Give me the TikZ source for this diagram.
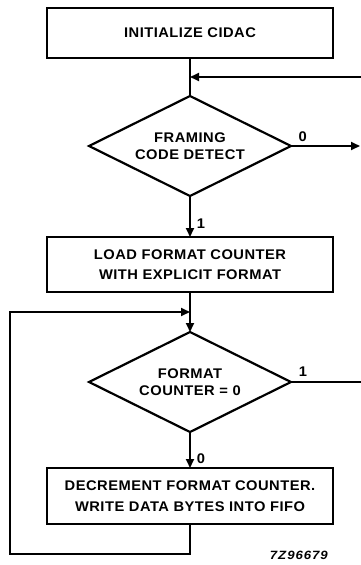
\documentclass[tikz,border=0pt]{standalone}
\usepackage{fontspec}
\setmainfont{Liberation Sans}
\newfontfamily\flowfont[FakeStretch=1.05,LetterSpace=3.5]{Liberation Sans Bold}
\newfontfamily\tagfont[FakeStretch=1.1,LetterSpace=8]{Liberation Sans Bold Italic}
\usetikzlibrary{arrows.meta,positioning,shapes.geometric,calc}
\tikzset{
  box/.style={draw,line width=2.3pt,outer sep=0pt,minimum width=286pt,inner sep=0pt,align=center,font=\flowfont\fontsize{14}{20.5}\selectfont},
  test/.style={diamond,draw,line width=2.2pt,outer sep=0pt,aspect=2,minimum width=202pt,minimum height=100pt,inner sep=0pt,align=center,font=\flowfont\fontsize{14}{17}\selectfont},
  ln/.style={line width=1.8pt},
  ar/.style={ln,-{Triangle[length=9pt,width=8pt]}},
  lbl/.style={font=\flowfont\fontsize{14}{16}\selectfont,inner sep=1pt},
}

\begin{document}
\begin{tikzpicture}
  \useasboundingbox (0,0) rectangle (361pt,-565pt);
  \node[box,minimum height=50pt] (init) at (190pt,-33pt) {INITIALIZE CIDAC};
  \node[test,below=38pt of init] (frame) {FRAMING\\CODE DETECT};
  \node[box,minimum height=55pt,below=41pt of frame] (load) {LOAD FORMAT COUNTER\\WITH EXPLICIT FORMAT};
  \node[test,below=40pt of load] (zero) {FORMAT\\COUNTER = 0};
  \node[box,minimum height=56pt,below=36pt of zero] (decr) {DECREMENT FORMAT COUNTER.\\WRITE DATA BYTES INTO FIFO};
  \node[font=\tagfont\fontsize{12}{14}\selectfont,inner sep=0pt,below left=26.5pt and 5pt of decr.south east] (figno) {7Z96679};

  % loose ends at the page edge
  \coordinate (backA) at (361pt,-77pt);
  \coordinate (outA) at (frame.east -| 360pt,0);
  \coordinate (outB) at (zero.east -| 361pt,0);
  \coordinate (loopL) at (10pt,-554pt);
  \coordinate (joinB) at ($(load.south)!0.5!(zero.north)$);

  \draw[ln] (init) -- (frame);
  \draw[ar] (backA) -- (backA -| init);
  \draw[ar] (frame.east) -- node[lbl,above=2pt,pos=0.17]{0} (outA);
  \draw[ar] (frame) -- node[lbl,right=5pt,pos=0.68]{1} (load);
  \draw[ar] (load) -- (zero);
  \draw[ln] (zero.east) -- node[lbl,above=4pt,pos=0.17]{1} (outB);
  \draw[ar] (zero) -- node[lbl,right=5pt,pos=0.75]{0} (decr);
  \draw[ar] (decr.south) |- (loopL) |- (joinB);
\end{tikzpicture}
\end{document}
